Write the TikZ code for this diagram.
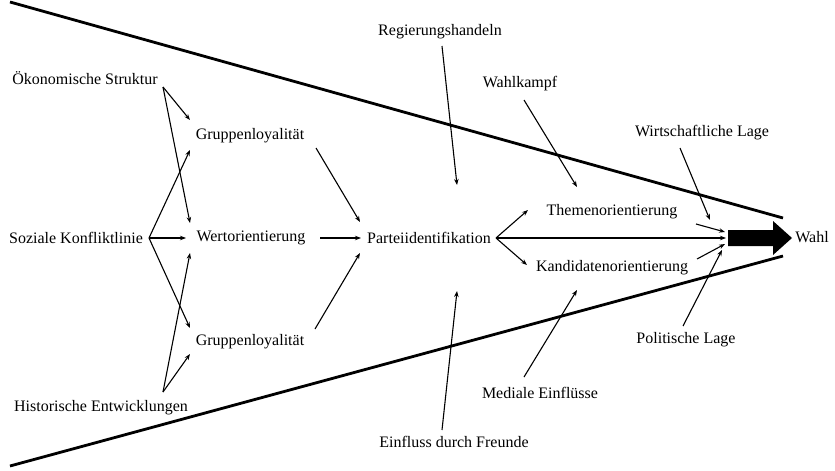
\documentclass[tikz,border=0pt]{standalone}
\usepackage{fontspec}
\setmainfont{Liberation Serif}
\usetikzlibrary{arrows.meta}
\begin{document}
\begin{tikzpicture}[x=1pt,y=-1pt,
  lbl/.style={font=\fontsize{16}{19}\selectfont, inner sep=1pt, text=black},
  arr/.style={-{Stealth[length=6pt,width=4.5pt]}, line width=1.1pt},
  bound/.style={line width=2.8pt},
  blk/.style={fill=black}]
\useasboundingbox (0,0) rectangle (835,471);

% boundary lines
\draw[bound] (10,2) -- (783,218);
\draw[bound] (10,466) -- (783,256);

% nodes
\node[lbl] (oek)  at (85,78)   {Ökonomische Struktur};
\node[lbl] (grp1) at (250,136) {Gruppenloyalität};
\node[lbl] (soz)  at (76,238)  {Soziale Konfliktlinie};
\node[lbl] (wert) at (251,238) {Wertorientierung};
\node[lbl] (grp2) at (250,342) {Gruppenloyalität};
\node[lbl] (hist) at (101,408) {Historische Entwicklungen};
\node[lbl] (pid)  at (429,238) {Parteiidentifikation};
\node[lbl] (reg)  at (440,32)  {Regierungshandeln};
\node[lbl] (wk)   at (520,84)  {Wahlkampf};
\node[lbl] (them) at (612,212) {Themenorientierung};
\node[lbl] (kand) at (612,268) {Kandidatenorientierung};
\node[lbl] (wirt) at (702,133) {Wirtschaftliche Lage};
\node[lbl] (pol)  at (686,340) {Politische Lage};
\node[lbl] (med)  at (540,393) {Mediale Einflüsse};
\node[lbl] (fre)  at (454,442) {Einfluss durch Freunde};
\node[lbl] (wahl) at (812,237) {Wahl};

% big arrow
\fill[blk] (728,230) -- (773,230) -- (773,221) -- (792,238) -- (773,255) -- (773,246) -- (728,246) -- cycle;
\node[inner sep=0pt, minimum width=64pt, minimum height=34pt, anchor=west] (big) at (728,238) {};

% connection points
\coordinate (oekO) at (163,87);
\coordinate (sozO) at (149,238);
\coordinate (histO) at (163,392);
\coordinate (g1in1) at (190,120);
\coordinate (g1in2) at (190,150);
\coordinate (win1) at (190,223);
\coordinate (win2) at (186,238);
\coordinate (win3) at (190,253);
\coordinate (g2in1) at (190,328);
\coordinate (g2in2) at (190,354);
\coordinate (g1out) at (316,148);
\coordinate (wout) at (320,238);
\coordinate (g2out) at (315,329);
\coordinate (pin1) at (360,222);
\coordinate (pin2) at (361,238);
\coordinate (pin3) at (360,253);
\coordinate (pidO) at (496,238);
\coordinate (thin) at (528,210);
\coordinate (kain) at (527,265);
\coordinate (thout) at (696,224);
\coordinate (kaout) at (697,259);
\coordinate (b1) at (725,232);
\coordinate (b2) at (726,238);
\coordinate (b3) at (725,244);
\coordinate (b4) at (710,220);
\coordinate (b5) at (722,250);
\coordinate (wirtO) at (680,148);
\coordinate (polO) at (683,326);
\coordinate (regO) at (442,46);
\coordinate (regE) at (457,185);
\coordinate (wkO) at (524,100);
\coordinate (wkE) at (577,187);
\coordinate (freO) at (442,430);
\coordinate (freE) at (457,291);
\coordinate (medO) at (524,377);
\coordinate (medE) at (577,290);

% left arrows
\draw[arr] (oekO) -- (g1in1);
\draw[arr] (oekO) -- (win1);
\draw[arr] (sozO) -- (g1in2);
\draw[arr] (sozO) -- (win2);
\draw[arr] (sozO) -- (g2in1);
\draw[arr] (histO) -- (win3);
\draw[arr] (histO) -- (g2in2);

\draw[arr] (g1out) -- (pin1);
\draw[arr] (wout) -- (pin2);
\draw[arr] (g2out) -- (pin3);

% right arrows
\draw[arr] (pidO) -- (thin);
\draw[arr] (pidO) -- (kain);
\draw[arr] (pidO) -- (b2);
\draw[arr] (thout) -- (b1);
\draw[arr] (kaout) -- (b3);
\draw[arr] (wirtO) -- (b4);
\draw[arr] (polO) -- (b5);

% outer influences
\draw[arr] (regO) -- (regE);
\draw[arr] (wkO) -- (wkE);
\draw[arr] (freO) -- (freE);
\draw[arr] (medO) -- (medE);
\end{tikzpicture}
\end{document}
